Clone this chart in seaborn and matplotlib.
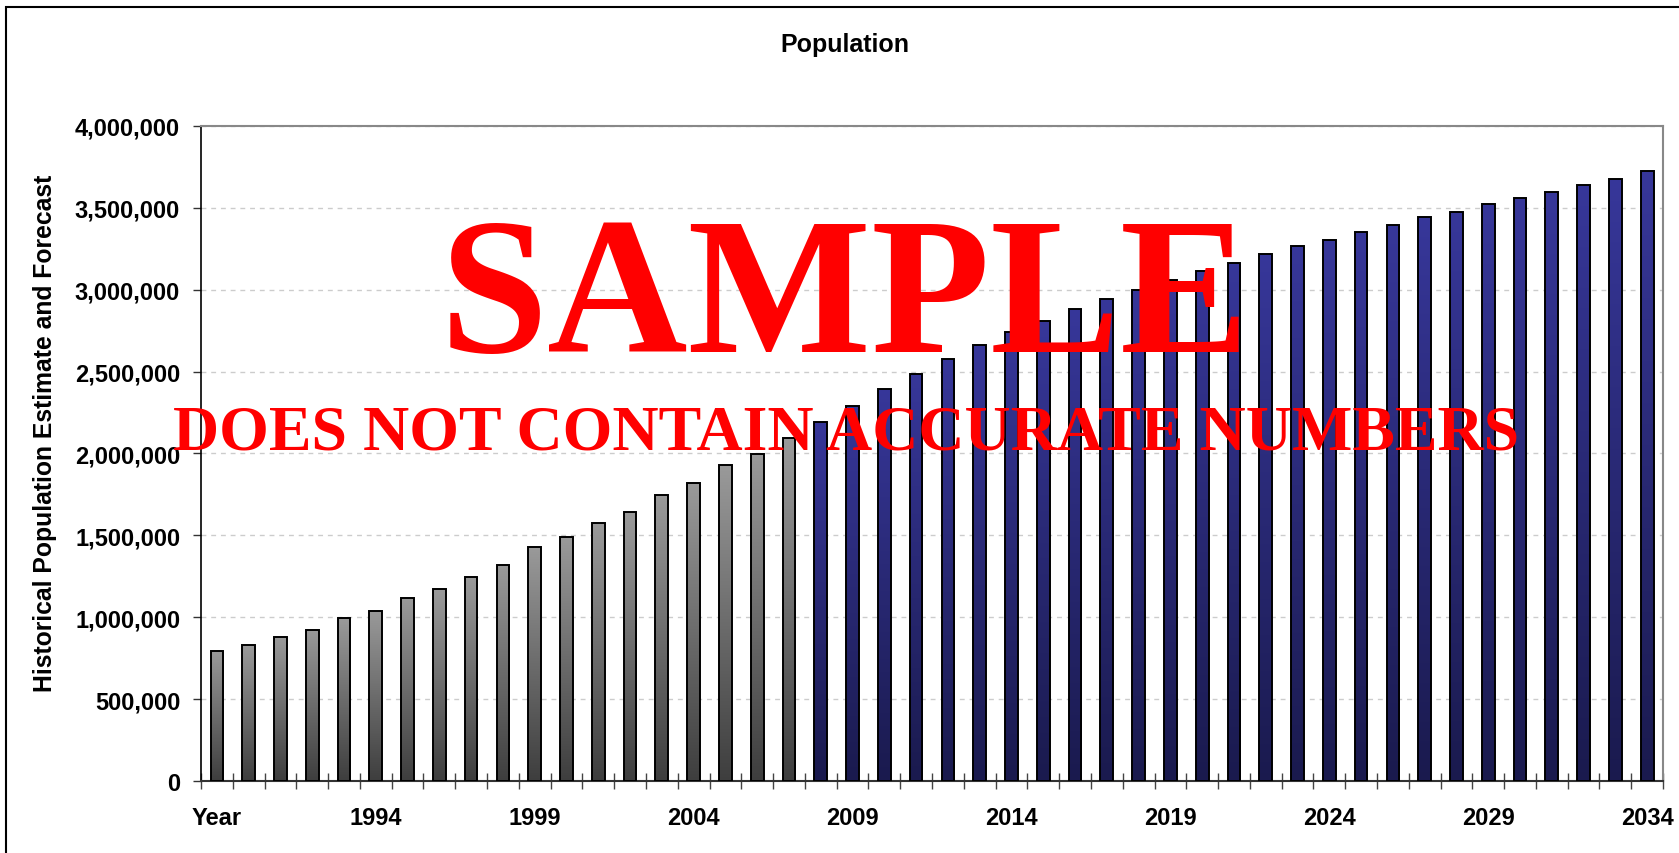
import numpy as np
import pandas as pd
import matplotlib
matplotlib.use("Agg")
import matplotlib.pyplot as plt
import seaborn as sns
from matplotlib.ticker import FuncFormatter
from matplotlib.colors import LinearSegmentedColormap
from matplotlib.patches import Rectangle

# Data
years = list(range(1989, 2035))
historical = [796000, 830000, 877000, 924000, 993000, 1040000, 1118000, 1170000,
              1248000, 1320000, 1431000, 1490000, 1575000, 1642000, 1747000,
              1818000, 1930000, 1997000, 2093000]
forecast = [2194000, 2288000, 2394000, 2488000, 2577000, 2665000, 2744000,
            2811000, 2882000, 2941000, 3000000, 3060000, 3116000, 3161000,
            3220000, 3269000, 3304000, 3351000, 3397000, 3446000, 3477000,
            3526000, 3560000, 3595000, 3642000, 3676000, 3723000]
periods = ["Historical"] * len(historical) + ["Forecast"] * len(forecast)
tick_labels = ["Year" if y == 1989 else (str(y) if (y - 1989) % 5 == 0 else "")
               for y in years]

df = pd.DataFrame({"year": [str(y) for y in years],
                   "population": historical + forecast,
                   "period": periods})

sns.set_style("white")
plt.rcParams["font.family"] = ["Liberation Sans", "DejaVu Sans"]
plt.rcParams["font.weight"] = "bold"
plt.rcParams["text.color"] = "black"

fig = plt.figure(figsize=(16.79, 8.54), dpi=100)
ax = fig.add_axes([0.1197, 0.0843, 0.8708, 0.767])

palette = {"Historical": "#777777", "Forecast": "#2a2a78"}
sns.barplot(data=df, x="year", y="population", hue="period", palette=palette,
            dodge=False, width=0.4, legend=False, edgecolor="black",
            linewidth=1.4, ax=ax, zorder=3)

# gradient fill for each bar (lighter at top, darker at bottom)
gray_cmap = LinearSegmentedColormap.from_list("g", ["#3e3e3e", "#9a9a9a"])
blue_cmap = LinearSegmentedColormap.from_list("b", ["#1a1a4e", "#37379a"])
grad = np.linspace(1, 0, 256).reshape(-1, 1)
hist_rgb = matplotlib.colors.to_rgba(palette["Historical"])
for p in list(ax.patches):
    bb = p.get_bbox()
    if bb.height == 0:
        continue
    fc = p.get_facecolor()
    cmap = gray_cmap if np.allclose(fc[:3], hist_rgb[:3], atol=0.02) else blue_cmap
    im = ax.imshow(grad, cmap=cmap, aspect="auto", interpolation="bilinear",
                   extent=(bb.x0, bb.x1, bb.y0, bb.y1), zorder=2.9)
    im.set_clip_path(p)
    p.set_facecolor("none")

ax.set_xlim(-0.5, len(years) - 0.5)
ax.set_ylim(0, 4000000)
ax.set_yticks(np.arange(0, 4000001, 500000))

def comma_formatter(x, pos):
    return "{:,.0f}".format(x)
ax.yaxis.set_major_formatter(FuncFormatter(comma_formatter))

ax.set_xticks(range(len(years)))
ax.set_xticklabels(tick_labels)
ax.set_xticks(np.arange(-0.5, len(years), 1), minor=True)
ax.tick_params(axis="x", which="major", length=0, pad=18, labelsize=17,
               labelcolor="black")
ax.tick_params(axis="x", which="minor", direction="inout", length=11,
               width=1, color="#444444", bottom=True)
ax.tick_params(axis="y", which="major", direction="out", length=6, width=1,
               color="#333333", pad=9, labelsize=17, left=True,
               labelcolor="black")
for lab in ax.get_xticklabels() + ax.get_yticklabels():
    lab.set_fontweight("bold")

ax.set_xlabel("")
ax.set_ylabel("")
ax.yaxis.grid(True, color="#cccccc", linestyle=(0, (3.5, 3.5)), linewidth=1)
ax.set_axisbelow(True)

ax.spines["left"].set_color("black")
ax.spines["left"].set_linewidth(1.2)
ax.spines["bottom"].set_color("#333333")
ax.spines["bottom"].set_linewidth(1.5)
for s in ["top", "right"]:
    ax.spines[s].set_color("#888888")
    ax.spines[s].set_linewidth(1.5)

fig.text(0.503, 0.947, "Population", ha="center", va="center",
         fontsize=18, fontweight="bold", color="black")
fig.text(0.0268, 0.493, "Historical Population Estimate and Forecast",
         rotation=90, ha="center", va="center", fontsize=17.8,
         fontweight="bold", color="black")

# watermark
fig.text(0.503, 0.5878, "SAMPLE", ha="center", va="baseline", color="#ff0000",
         fontsize=140, family="Liberation Serif", fontweight="bold", zorder=10)
fig.text(0.504, 0.4742, "DOES NOT CONTAIN ACCURATE NUMBERS", ha="center",
         va="baseline", color="#ff0000", fontsize=46,
         family="Liberation Serif", fontweight="bold", zorder=10)

# outer chart frame (cut off at right and bottom)
fig.add_artist(Rectangle((0.0036, -0.1), 1.2, 1.0906, fill=False,
                         edgecolor="black", linewidth=1.5,
                         transform=fig.transFigure, clip_on=False))

fig.savefig("out.png", dpi=100)
